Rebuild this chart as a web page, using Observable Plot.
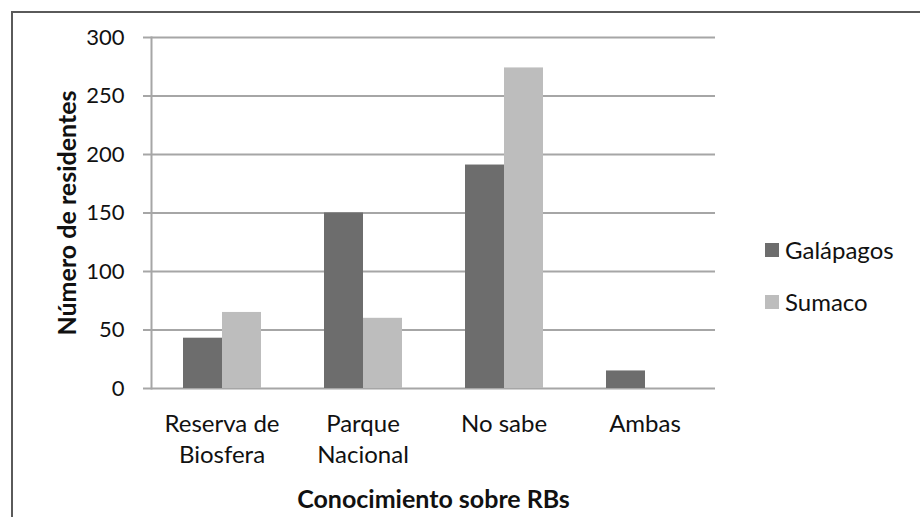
<!DOCTYPE html>
<html>
<head>
<meta charset="utf-8">
<script src="https://cdn.jsdelivr.net/npm/d3@7"></script>
<script src="https://cdn.jsdelivr.net/npm/@observablehq/plot@0.6"></script>
<style>
  body { margin: 0; background: #fff; }
  #wrap { position: relative; width: 920px; height: 517px; overflow: hidden; font-family: Lato, sans-serif; background: #fff; }
  #frame { position: absolute; left: 11px; top: 11px; width: 960px; height: 560px; border-top: 2px solid #5a5a5a; border-left: 2px solid #5a5a5a; }
  #chart { position: absolute; left: 0; top: 0; }
  .item { position: absolute; left: 765px; display: flex; align-items: center; font-size: 24px; color: #111; white-space: nowrap; }
  .sw { width: 14px; height: 14px; margin-right: 6px; }
  #chart g[aria-label="y-axis tick"] path { stroke: #a6a6a6; stroke-width: 2px; }
  #chart g[aria-label="y-axis label"], #chart g[aria-label="fx-axis label"] { font-weight: bold; font-size: 25px; }
</style>
</head>
<body>
<div id="wrap">
  <div id="frame"></div>
  <div id="chart"></div>
</div>
<script>
const categories = ["Reserva de Biosfera", "Parque Nacional", "No sabe", "Ambas"];
const categoryLabels = ["Reserva de\nBiosfera", "Parque\nNacional", "No sabe", "Ambas"];
const series = ["Galápagos", "Sumaco"];
const galapagos = [43, 150, 191, 15];
const sumaco = [65, 60, 274, 0];
const yTicks = [0, 50, 100, 150, 200, 250, 300];
const colors = ["#6d6d6d", "#bdbdbd"];

const labelOf = new Map(categories.map((c, i) => [c, categoryLabels[i]]));
const data = categories.flatMap((c, i) => [
  {cat: c, serie: series[0], value: galapagos[i]},
  {cat: c, serie: series[1], value: sumaco[i]}
]);

const chart = Plot.plot({
  width: 920,
  height: 517,
  marginLeft: 150,
  marginRight: 204,
  marginTop: 37,
  marginBottom: 129,
  style: {fontFamily: "Lato, sans-serif", background: "transparent", color: "#111"},
  fx: {domain: categories, padding: 0, axis: null},
  x: {domain: series, paddingInner: 0, paddingOuter: 0.77, axis: null},
  y: {domain: [0, 300], axis: null},
  color: {domain: series, range: colors},
  marks: [
    Plot.ruleY(yTicks, {stroke: "#a6a6a6", strokeWidth: 2}),
    Plot.barY(data, {fx: "cat", x: "serie", y: "value", fill: "serie"}),
    Plot.frame({anchor: "left", facetAnchor: "left", stroke: "#a6a6a6", strokeWidth: 2}),
    Plot.axisY({ticks: yTicks, tickSize: 8, tickPadding: 19, fontSize: 22, stroke: "#a6a6a6",
      label: "Número de residentes", labelAnchor: "center", labelOffset: 93, labelArrow: "none"}),
    Plot.axisFx({anchor: "bottom", tickSize: 0, tickPadding: 21, fontSize: 24, lineHeight: 1.3,
      tickFormat: d => labelOf.get(d), label: "Conocimiento sobre RBs", labelAnchor: "center", labelOffset: 119, labelArrow: "none"})
  ]
});
document.getElementById("chart").appendChild(chart);

const wrap = document.getElementById("wrap");
const tops = [235, 287];
series.forEach((s, i) => {
  const it = document.createElement("div");
  it.className = "item";
  it.style.top = tops[i] + "px";
  const sw = document.createElement("span");
  sw.className = "sw";
  sw.style.background = colors[i];
  const tx = document.createElement("span");
  tx.textContent = s;
  it.appendChild(sw);
  it.appendChild(tx);
  wrap.appendChild(it);
});
</script>
</body>
</html>
